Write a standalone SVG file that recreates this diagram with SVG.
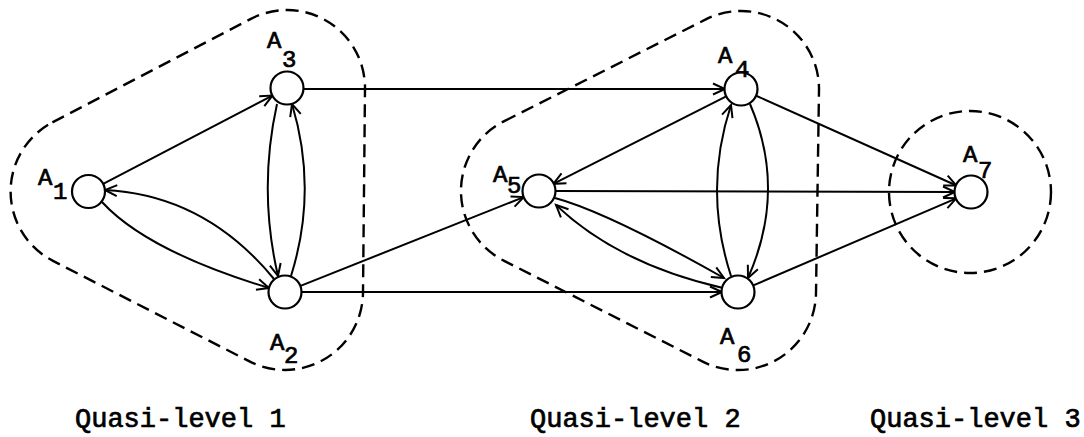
<svg xmlns="http://www.w3.org/2000/svg" width="1084" height="437" viewBox="0 0 1084 437">
<style>
.hull{fill:none;stroke:#000;stroke-width:2.4;stroke-dasharray:13 7}
.node{fill:#fff;stroke:#000;stroke-width:2.2}
.edge{fill:none;stroke:#000;stroke-width:2;marker-end:url(#arr)}
.lbl{font-family:"Liberation Mono","Courier New",monospace;font-size:24px;fill:#000;stroke:#000;stroke-width:0.7}
.cap{font-family:"Liberation Mono","Courier New",monospace;font-size:27px;fill:#000;stroke:#000;stroke-width:0.7}
</style>
<defs>
<marker id="arr" markerUnits="userSpaceOnUse" markerWidth="16" markerHeight="14" viewBox="-13 -7 16 14" refX="0" refY="0" orient="auto">
<path d="M-12,-5.5 L0,0 L-12,5.5" fill="none" stroke="#000" stroke-width="2"/>
</marker>
</defs>
<rect width="1084" height="437" fill="#fff"/>
<g id="hulls">
<path class="hull" d="M52.4,122.4 L250.9,18.9 A78,78 0 0 1 365,88.8 L363,292.8 A78,78 0 0 1 249.5,361.4 L53,260.9 A78,78 0 0 1 52.4,122.4 Z"/>
<path class="hull" d="M503.8,121.4 L705.8,19.4 A78,78 0 0 1 819,90.2 L816,293.2 A78,78 0 0 1 702.7,361.6 L503.7,260.6 A78,78 0 0 1 503.8,121.4 Z"/>
<circle class="hull" cx="970" cy="192" r="81"/>
</g>
<g id="connectors">
<line class="edge" x1="102.7" y1="184.1" x2="272.4" y2="95.6"/>
<line class="edge" x1="303" y1="89" x2="725" y2="89"/>
<line class="edge" x1="301" y1="292" x2="722" y2="292"/>
<line class="edge" x1="299.9" y1="286.1" x2="523.7" y2="197.1"/>
<line class="edge" x1="726.7" y1="96.2" x2="553.3" y2="183.8"/>
<line class="edge" x1="555" y1="191" x2="955" y2="192"/>
<line class="edge" x1="755.6" y1="95.5" x2="956.4" y2="185.5"/>
<line class="edge" x1="752.7" y1="285.7" x2="956.3" y2="198.3"/>
<path class="edge" d="M274,279 Q205,195 105,190"/>
<path class="edge" d="M102,202 Q147,251 269,288"/>
<path class="edge" d="M277,104 Q258,190 278,276"/>
<path class="edge" d="M291,276 Q318,190 292,104"/>
<path class="edge" d="M731,276 Q703,190 731,105"/>
<path class="edge" d="M750,104 Q787,190 748,278"/>
<path class="edge" d="M555,198 Q607,212 724,278"/>
<path class="edge" d="M723,288 Q618,264 556,205"/>
</g>
<g id="A1"><circle class="node" cx="88.5" cy="191.5" r="16.5"/><text class="lbl" x="38" y="185">A</text><text class="lbl" x="53" y="199">1</text></g>
<g id="A2"><circle class="node" cx="285" cy="292" r="16.5"/><text class="lbl" x="270" y="350">A</text><text class="lbl" x="284" y="363">2</text></g>
<g id="A3"><circle class="node" cx="287" cy="88" r="16.5"/><text class="lbl" x="267" y="48">A</text><text class="lbl" x="282" y="67">3</text></g>
<g id="A4"><circle class="node" cx="741" cy="89" r="16.5"/><text class="lbl" x="718" y="63">A</text><text class="lbl" x="735" y="77">4</text></g>
<g id="A5"><circle class="node" cx="539" cy="191" r="16.5"/><text class="lbl" x="493" y="182">A</text><text class="lbl" x="507" y="193">5</text></g>
<g id="A6"><circle class="node" cx="738" cy="292" r="16.5"/><text class="lbl" x="720" y="344">A</text><text class="lbl" x="737" y="362">6</text></g>
<g id="A7"><circle class="node" cx="971" cy="192" r="16.5"/><text class="lbl" x="963" y="162">A</text><text class="lbl" x="978" y="178">7</text></g>
<g id="captions">
<text class="cap" x="75" y="427">Quasi-level 1</text>
<text class="cap" x="530" y="427">Quasi-level 2</text>
<text class="cap" x="870" y="427">Quasi-level 3</text>
</g>
</svg>
